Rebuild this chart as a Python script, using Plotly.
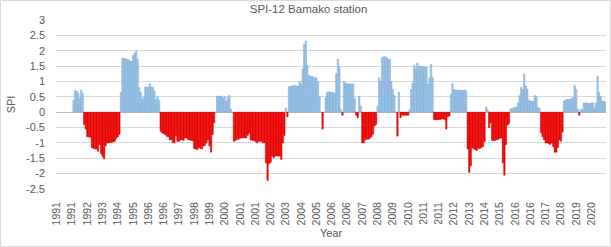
import plotly.graph_objects as go

# Monthly SPI-12 values, Bamako station (Jan..Dec of each year)
spi_1991 = [None, None, None, None, None, None, None, None, None, None, None, 0.38]
spi_1992 = [0.7, 0.68, 0.62, 0.45, 0.72, 0.6, -0.4, -0.55, -0.8, -0.8, -0.82, -1.15]
spi_1993 = [-1.18, -1.2, -1.2, -1.27, -1.05, -1.35, -1.45, -1.52, -1.1, -1.0, -1.0, -0.98]
spi_1994 = [-0.98, -0.97, -0.95, -0.85, -0.8, -0.72, 0.65, 1.75, 1.75, 1.74, 1.72, 1.7]
spi_1995 = [1.66, 1.65, 1.85, 1.92, 2.0, 1.72, 0.8, 0.65, 0.42, 0.5, 0.82, 0.82]
spi_1996 = [0.82, 0.93, 0.82, 0.8, 0.68, 0.4, 0.5, 0.38, -0.62, -0.68, -0.7, -0.73]
spi_1997 = [-0.78, -0.8, -0.9, -0.9, -1.0, -1.0, -0.76, -0.95, -0.95, -0.9, -0.9, -0.92]
spi_1998 = [-0.84, -0.84, -0.9, -0.9, -0.92, -0.93, -1.18, -1.2, -1.22, -1.15, -1.18, -1.2]
spi_1999 = [-1.1, -1.08, -1.0, -0.9, -1.1, -1.3, -0.73, -0.35, 0.0, 0.52, 0.52, 0.52]
spi_2000 = [0.52, 0.46, 0.5, 0.35, 0.47, 0.55, 0.1, 0.0, -0.95, -0.92, -0.88, -0.88]
spi_2001 = [-0.85, -0.84, -0.84, -0.84, -0.84, -0.75, -0.68, -0.9, -0.92, -0.92, -0.95, -1.0]
spi_2002 = [-0.95, -0.95, -0.95, -1.0, -1.0, -1.65, -2.22, -1.68, -1.63, -1.43, -1.48, -1.43]
spi_2003 = [-1.43, -1.43, -1.43, -1.54, -1.0, -0.76, 0.14, -0.15, 0.82, 0.85, 0.85, 0.87]
spi_2004 = [0.87, 0.85, 0.85, 1.0, 0.9, 1.41, 2.2, 2.32, 1.52, 1.2, 1.17, 1.16]
spi_2005 = [1.15, 1.12, 1.12, 1.0, 0.5, 0.0, -0.55, 0.0, 0.47, 0.65, 0.66, 0.66]
spi_2006 = [0.65, 0.63, 0.62, 1.26, 1.72, 1.48, 0.1, -0.1, 1.0, 0.93, 0.93, 0.92]
spi_2007 = [0.92, 0.92, 0.92, 0.45, -0.1, -0.18, 0.52, 0.2, -1.0, -1.0, -0.9, -0.88]
spi_2008 = [-0.88, -0.85, -0.8, -0.72, -0.45, -0.4, 0.2, 1.12, 1.0, 1.77, 1.8, 1.8]
spi_2009 = [1.77, 1.72, 1.72, 1.0, 0.74, 0.54, 0.0, -0.78, 0.65, -0.18, -0.1, -0.1]
spi_2010 = [-0.1, -0.1, -0.1, 0.08, 0.74, 0.95, 1.52, 1.41, 1.6, 1.5, 1.5, 1.48]
spi_2011 = [1.48, 1.46, 1.46, 0.9, 1.12, 1.55, 1.12, -0.24, -0.25, -0.25, -0.24, -0.24]
spi_2012 = [-0.22, -0.22, -0.25, -0.55, -0.15, -0.12, 0.58, 0.93, 0.74, 0.72, 0.72, 0.71]
spi_2013 = [0.72, 0.72, 0.7, 0.72, 0.68, -1.2, -1.96, -1.74, -1.16, -1.2, -1.22, -1.25]
spi_2014 = [-1.18, -1.18, -1.15, -1.12, -0.95, 0.17, 0.08, -0.51, -0.35, -0.92, -0.92, -0.92]
spi_2015 = [-0.9, -0.88, -0.85, -0.84, -1.65, -2.05, -1.06, -0.42, -0.38, 0.1, 0.12, 0.14]
spi_2016 = [0.16, 0.16, 0.3, 0.54, 0.8, 0.74, 1.23, 0.85, 0.75, 0.39, 0.36, 0.36]
spi_2017 = [0.35, 0.54, 0.5, 0.15, 0.12, -0.67, -0.8, -0.9, -1.0, -1.0, -1.02, -1.05]
spi_2018 = [-1.0, -1.12, -1.3, -1.3, -1.15, -0.9, -0.95, -0.65, 0.36, 0.4, 0.41, 0.41]
spi_2019 = [0.42, 0.45, 0.47, 0.87, 0.74, 0.1, -0.1, 0.08, 0.08, 0.3, 0.3, 0.3]
spi_2020 = [0.28, 0.28, 0.3, 0.3, 0.14, 0.3, 1.17, 0.63, 0.5, 0.36, 0.36, 0.33]

years = list(range(1991, 2021))
yearly = [spi_1991, spi_1992, spi_1993, spi_1994, spi_1995, spi_1996, spi_1997,
          spi_1998, spi_1999, spi_2000, spi_2001, spi_2002, spi_2003, spi_2004,
          spi_2005, spi_2006, spi_2007, spi_2008, spi_2009, spi_2010, spi_2011,
          spi_2012, spi_2013, spi_2014, spi_2015, spi_2016, spi_2017, spi_2018,
          spi_2019, spi_2020]
month_names = ["Jan", "Feb", "Mar", "Apr", "May", "Jun",
               "Jul", "Aug", "Sep", "Oct", "Nov", "Dec"]

categories = []
values = []
cat_year = []
for y, vals in zip(years, yearly):
    for mn, v in zip(month_names, vals):
        categories.append(f"{mn} {y}")
        values.append(v)
        cat_year.append(str(y))

label_step = 10
tick_vals = categories[::label_step]
tick_text = cat_year[::label_step]

y_ticks = [3, 2.5, 2, 1.5, 1, 0.5, 0, -0.5, -1, -1.5, -2, -2.5]
y_text = ["3", "2.5", "2", "1.5", "1", "0.5", "0", "-0.5", "-1", "-1.5", "-2", "-2.5"]

fill = ["#ff0000" if (v is not None and v < 0) else "#a8cae9" for v in values]
edge = ["#d00000" if (v is not None and v < 0) else "#6fa4d4" for v in values]

FONT = "Liberation Sans, Arial, sans-serif"
GREY = "#595959"

fig = go.Figure()
fig.add_trace(go.Bar(
    x=categories, y=values,
    marker=dict(color=fill, line=dict(color=edge, width=0.5)),
    showlegend=False,
))

fig.update_layout(
    width=611, height=247,
    margin=dict(l=56, r=5, t=20, b=58),
    paper_bgcolor="white", plot_bgcolor="white",
    bargap=0.1,
    font=dict(family=FONT, size=11, color=GREY),
    title=dict(text="SPI-12 Bamako station", x=0.505, xanchor="center",
               y=0.962, yanchor="middle",
               font=dict(family=FONT, size=11.5, color=GREY)),
    xaxis=dict(
        type="category", categoryorder="array", categoryarray=categories,
        tickmode="array", tickvals=tick_vals, ticktext=tick_text,
        tickangle=-90, tickfont=dict(size=10.5, color=GREY),
        showgrid=False, showline=False, zeroline=False,
        ticks="", ticklabelstandoff=10,
        title=dict(text="Year", font=dict(size=11, color=GREY), standoff=4),
    ),
    yaxis=dict(
        range=[-2.5, 3], tickmode="array", tickvals=y_ticks, ticktext=y_text,
        showgrid=True, gridcolor="#d9d9d9", gridwidth=1,
        zeroline=True, zerolinecolor="#bfbfbf", zerolinewidth=1,
        showline=False, ticks="", ticklabelstandoff=10,
        tickfont=dict(size=11, color=GREY),
        title=dict(text="SPI", font=dict(size=11, color=GREY), standoff=8),
    ),
)

fig.add_shape(type="rect", xref="paper", yref="paper",
              x0=-55.5 / 550, x1=(550 + 4.5) / 550,
              y0=-57.5 / 169, y1=(169 + 19.5) / 169,
              line=dict(color="#d9d9d9", width=1), fillcolor="rgba(0,0,0,0)",
              layer="below")

fig.write_html("out.html",
               config={"displayModeBar": False},
               post_script="document.body.style.margin='0';document.body.style.padding='0';")
